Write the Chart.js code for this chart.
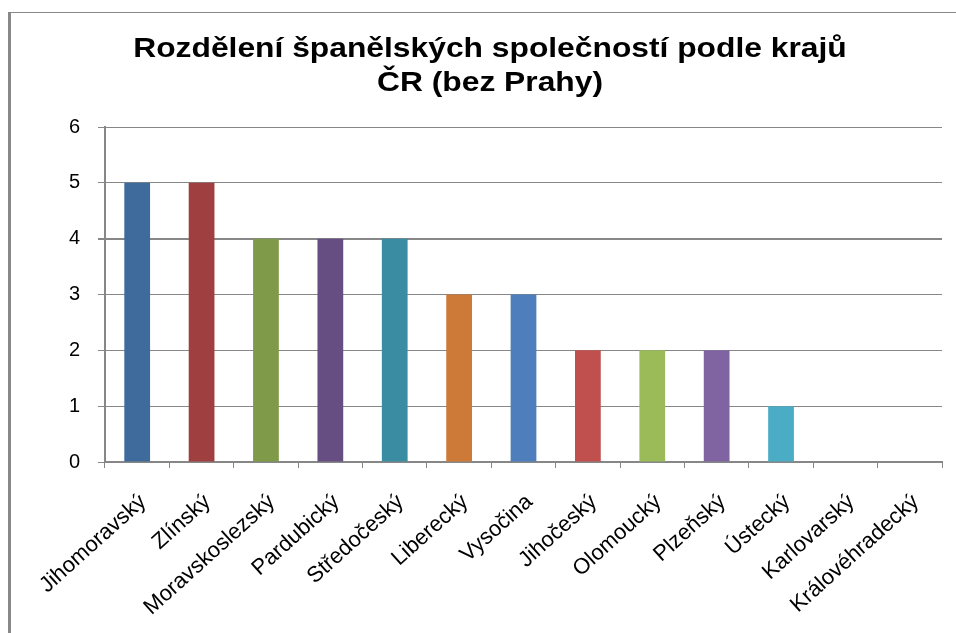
<!DOCTYPE html>
<html>
<head>
<meta charset="utf-8">
<script src="https://cdn.jsdelivr.net/npm/chart.js@4"></script>
<style>
  html, body { margin: 0; padding: 0; background: #fff; }
  #wrap { position: relative; width: 956px; height: 633px; }
  #frame { position: absolute; left: 8px; top: 12px; right: 0; bottom: 0;
           border-left: 3px solid #888; border-top: 1px solid #888; }
  canvas { position: absolute; left: 0; top: 0; }
</style>
</head>
<body>
<div id="wrap">
  <div id="frame"></div>
  <canvas id="c" width="956" height="633"></canvas>
</div>
<script>
const titleLines = ["Rozdělení španělských společností podle krajů", "ČR (bez Prahy)"];
const categories = ["Jihomoravský", "Zlínský", "Moravskoslezský", "Pardubický", "Středočeský",
  "Liberecký", "Vysočina", "Jihočeský", "Olomoucký", "Plzeňský", "Ústecký", "Karlovarský", "Královéhradecký"];
const values = [5, 5, 4, 4, 4, 3, 3, 2, 2, 2, 1, 0, 0];
const barColors = ["#3E6A9C", "#A03F3F", "#7F9A48", "#664D82", "#3A8CA2", "#CD7A38",
  "#4E7FBC", "#C0504D", "#9BBB59", "#8064A2", "#4BACC6", "#3E6A9C", "#A03F3F"];
const yTicks = [0, 1, 2, 3, 4, 5, 6];

const FONT = "'Liberation Sans', Arial, sans-serif";

// Title drawn as canvas text, slightly widened like the reference
const stretchedTitle = {
  id: 'stretchedTitle',
  afterDraw(chart) {
    const ctx = chart.ctx;
    ctx.save();
    ctx.fillStyle = '#000';
    ctx.font = "bold 28px " + FONT;
    ctx.textAlign = 'center';
    ctx.textBaseline = 'alphabetic';
    const baselines = [57, 91];
    titleLines.forEach((t, i) => {
      ctx.save();
      ctx.translate(490, baselines[i]);
      ctx.scale(1.135, 1);
      ctx.fillText(t, 0, 0);
      ctx.restore();
    });
    ctx.restore();
  }
};

new Chart(document.getElementById('c'), {
  type: 'bar',
  data: {
    labels: categories,
    datasets: [{
      data: values,
      backgroundColor: barColors,
      borderWidth: 0,
      barPercentage: 0.4,
      categoryPercentage: 1.0
    }]
  },
  options: {
    responsive: false,
    animation: false,
    devicePixelRatio: 1,
    layout: { padding: { left: 0, right: 14, top: 127, bottom: 0 } },
    plugins: {
      legend: { display: false },
      tooltip: { enabled: false },
      title: { display: false }
    },
    scales: {
      x: {
        offset: true,
        grid: { display: true, drawOnChartArea: false, drawTicks: true, tickLength: 6, color: '#878787', offset: true },
        border: { display: true, color: '#878787', width: 2 },
        ticks: {
          minRotation: 42, maxRotation: 42, autoSkip: false,
          color: '#000', padding: 21, labelOffset: 6,
          font: { family: FONT, size: 22 }
        },
        afterFit: (s) => { s.height = 171; }
      },
      y: {
        min: 0, max: 6,
        afterBuildTicks: (s) => { s.ticks = yTicks.map(v => ({ value: v })); },
        grid: { color: '#878787', lineWidth: (c) => (c.tick && c.tick.value === 4 ? 2 : 1), tickLength: 7, drawTicks: true },
        border: { display: true, color: '#878787', width: 2 },
        ticks: { color: '#000', padding: 18, font: { family: FONT, size: 20 } },
        afterFit: (s) => { s.width = 105; }
      }
    }
  },
  plugins: [stretchedTitle]
});
</script>
</body>
</html>
